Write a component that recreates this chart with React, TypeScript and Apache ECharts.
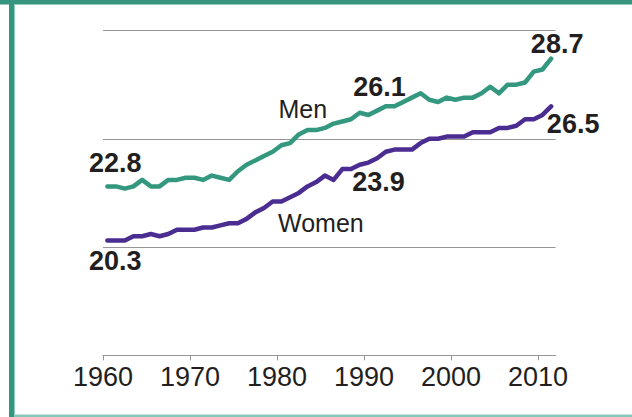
import React, { useEffect, useRef } from "react";
import * as echarts from "echarts";

// Median age at first marriage, 1960-2011
const years = [
  1960, 1961, 1962, 1963, 1964, 1965, 1966, 1967, 1968, 1969,
  1970, 1971, 1972, 1973, 1974, 1975, 1976, 1977, 1978, 1979,
  1980, 1981, 1982, 1983, 1984, 1985, 1986, 1987, 1988, 1989,
  1990, 1991, 1992, 1993, 1994, 1995, 1996, 1997, 1998, 1999,
  2000, 2001, 2002, 2003, 2004, 2005, 2006, 2007, 2008, 2009,
  2010, 2011,
];
const menAges = [
  22.8, 22.8, 22.7, 22.8, 23.1, 22.8, 22.8, 23.1, 23.1, 23.2,
  23.2, 23.1, 23.3, 23.2, 23.1, 23.5, 23.8, 24.0, 24.2, 24.4,
  24.7, 24.8, 25.2, 25.4, 25.4, 25.5, 25.7, 25.8, 25.9, 26.2,
  26.1, 26.3, 26.5, 26.5, 26.7, 26.9, 27.1, 26.8, 26.7, 26.9,
  26.8, 26.9, 26.9, 27.1, 27.4, 27.1, 27.5, 27.5, 27.6, 28.1,
  28.2, 28.7,
];
const womenAges = [
  20.3, 20.3, 20.3, 20.5, 20.5, 20.6, 20.5, 20.6, 20.8, 20.8,
  20.8, 20.9, 20.9, 21.0, 21.1, 21.1, 21.3, 21.6, 21.8, 22.1,
  22.1, 22.3, 22.5, 22.8, 23.0, 23.3, 23.1, 23.6, 23.6, 23.8,
  23.9, 24.1, 24.4, 24.5, 24.5, 24.5, 24.8, 25.0, 25.0, 25.1,
  25.1, 25.1, 25.3, 25.3, 25.3, 25.5, 25.5, 25.6, 25.9, 25.9,
  26.1, 26.5,
];
const xTickLabels = [1960, 1970, 1980, 1990, 2000, 2010];
const menCalloutYears = [1960, 1990, 2011];
const womenCalloutYears = [1960, 1990, 2011];
const menNameYear = 1982;
const womenNameYear = 1985;

const FONT = "'Liberation Sans', Arial, sans-serif";
const INK = "#231f20";
const MEN_COLOR = "#33987f";
const WOMEN_COLOR = "#4b2d92";
const MID_YEAR = 0.5;

const numberOffsets: Record<string, Record<number, [number, number]>> = {
  men: { 1960: [8, -23], 1990: [11, -28], 2011: [6, -15] },
  women: { 1960: [8, 20], 1990: [10, 19], 2011: [22, 18] },
};
const nameOffsets: Record<string, [number, number]> = {
  men: [4, -25],
  women: [-4, 47],
};

function buildData(
  key: "men" | "women",
  values: number[],
  callouts: number[],
  nameYear: number,
  name: string
) {
  return years.map((yr, i) => {
    const item: any = { value: [yr + MID_YEAR, values[i]] };
    if (callouts.includes(yr)) {
      item.label = {
        show: true,
        position: "inside",
        offset: numberOffsets[key][yr],
        formatter: values[i].toFixed(1),
        fontSize: 27,
        fontWeight: "bold",
        fontFamily: FONT,
        color: INK,
      };
    } else if (yr === nameYear) {
      item.label = {
        show: true,
        position: "inside",
        offset: nameOffsets[key],
        formatter: name,
        fontSize: 25,
        fontFamily: FONT,
        color: INK,
      };
    }
    return item;
  });
}

export default function App() {
  const ref = useRef<HTMLDivElement>(null);

  useEffect(() => {
    if (!ref.current) return;
    const chart = echarts.init(ref.current, undefined, { renderer: "svg" });
    const gridColor = "#969696";
    chart.setOption({
      animation: false,
      backgroundColor: "#ffffff",
      grid: { left: 103, right: 76.5, top: 30.5, bottom: 61.7 },
      xAxis: {
        type: "value",
        min: 1960,
        max: 2012,
        interval: 10,
        axisLine: { show: true, lineStyle: { color: gridColor, width: 1 } },
        axisTick: {
          show: true,
          length: 5,
          customValues: xTickLabels,
          lineStyle: { color: gridColor, width: 1 },
        },
        axisLabel: {
          customValues: xTickLabels,
          formatter: (v: number) => String(v),
          fontSize: 27,
          fontFamily: FONT,
          color: INK,
          margin: 8,
        },
        splitLine: { show: false },
      },
      yAxis: {
        type: "value",
        min: 15,
        max: 30,
        interval: 5,
        axisLine: { show: false },
        axisTick: { show: false },
        axisLabel: { show: false },
        splitLine: { show: true, lineStyle: { color: gridColor, width: 1 } },
      },
      series: [
        {
          name: "Men",
          type: "line",
          data: buildData("men", menAges, menCalloutYears, menNameYear, "Men"),
          symbol: "circle",
          symbolSize: 0,
          showSymbol: true,
          lineStyle: { color: MEN_COLOR, width: 4.5, cap: "round", join: "round" },
          itemStyle: { color: MEN_COLOR },
          emphasis: { disabled: true },
          z: 3,
        },
        {
          name: "Women",
          type: "line",
          data: buildData("women", womenAges, womenCalloutYears, womenNameYear, "Women"),
          symbol: "circle",
          symbolSize: 0,
          showSymbol: true,
          lineStyle: { color: WOMEN_COLOR, width: 4.5, cap: "round", join: "round" },
          itemStyle: { color: WOMEN_COLOR },
          emphasis: { disabled: true },
          z: 3,
        },
      ],
      graphic: [
        { type: "rect", shape: { x: 0, y: 0, width: 632, height: 4.5 }, style: { fill: "#35957f" }, z: 10 },
        { type: "rect", shape: { x: 9, y: 0, width: 5, height: 417 }, style: { fill: "#35957f" }, z: 10 },
        { type: "rect", shape: { x: 14, y: 4.5, width: 1, height: 410 }, style: { fill: "#8fcfc0" }, z: 10 },
        { type: "rect", shape: { x: 14, y: 414.5, width: 618, height: 2.5 }, style: { fill: "#86c8b8" }, z: 10 },
      ],
    });
    return () => chart.dispose();
  }, []);

  return (
    <div
      ref={ref}
      style={{ position: "fixed", left: 0, top: 0, width: 632, height: 417, background: "#fff" }}
    />
  );
}
